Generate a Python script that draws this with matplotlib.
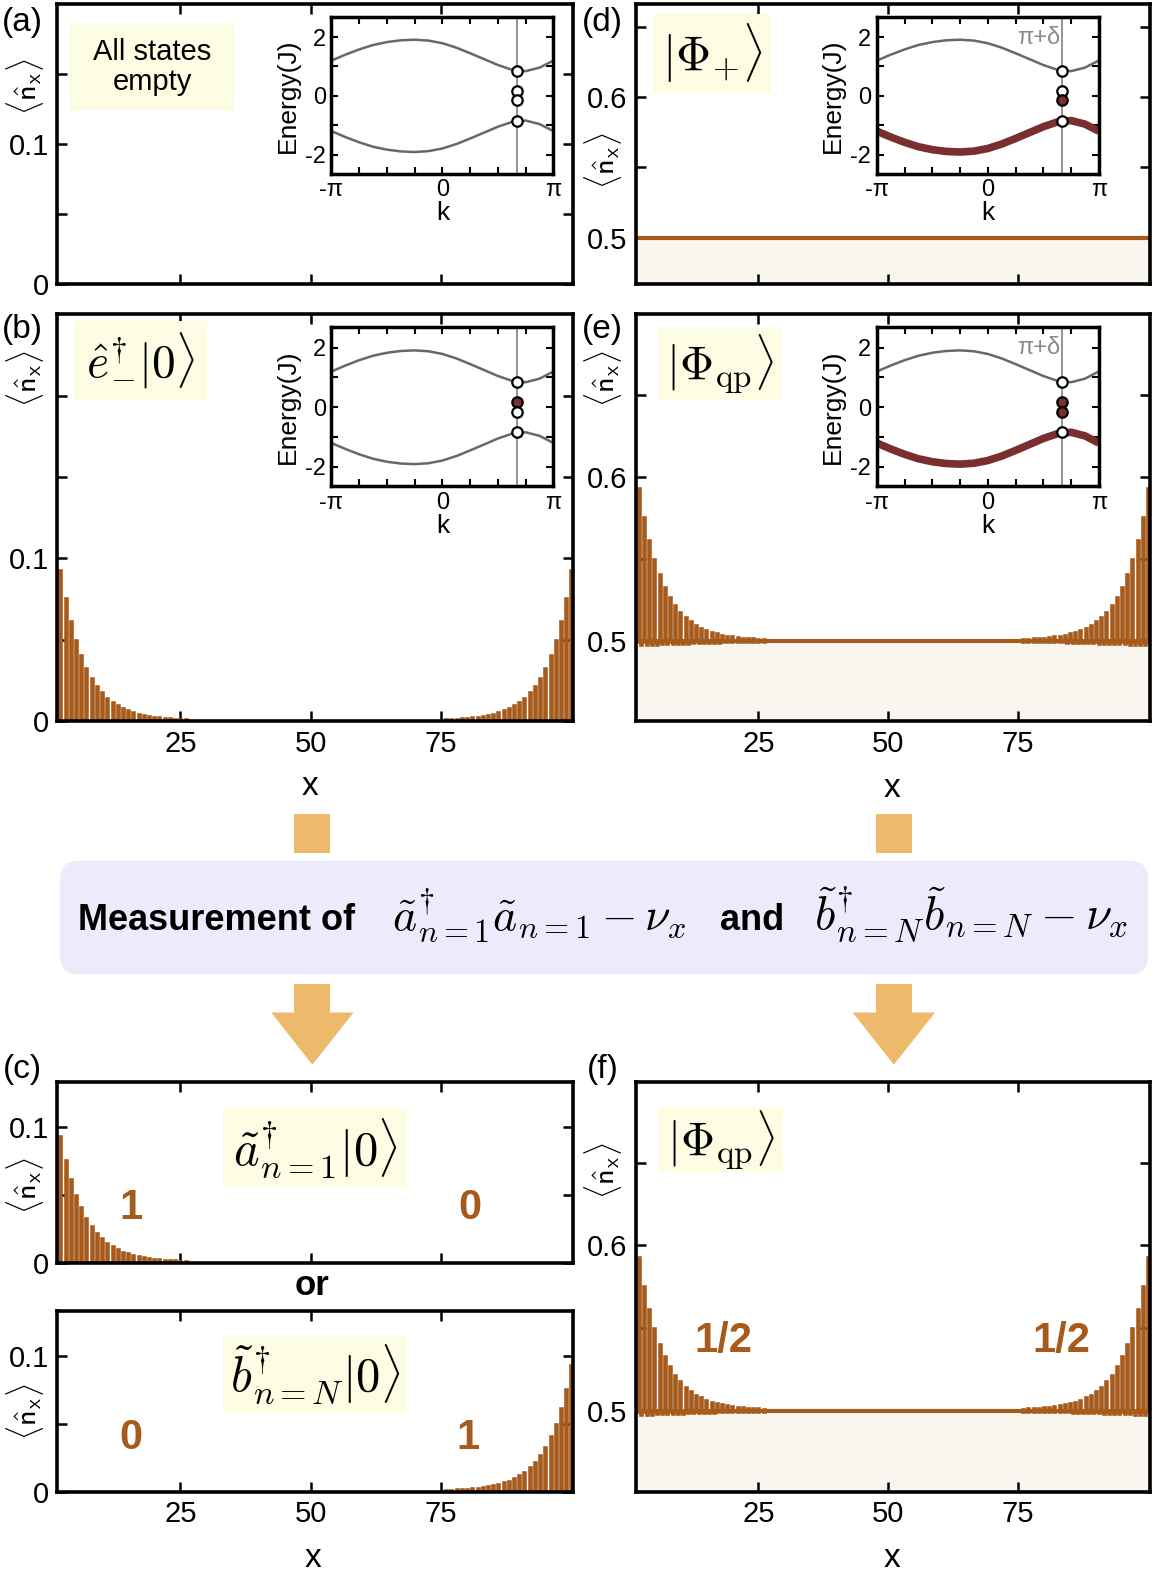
import matplotlib
matplotlib.use("Agg")
import matplotlib.pyplot as plt
import numpy as np
from matplotlib.patches import FancyBboxPatch, Rectangle, Polygon

plt.rcParams["font.family"] = ["Liberation Sans", "DejaVu Sans"]
plt.rcParams["mathtext.fontset"] = "cm"
plt.rcParams["axes.unicode_minus"] = False

# ---------------------------------------------------------------- data
# inset band structure, k in units of pi
band_k = [-1.0, -0.875, -0.75, -0.625, -0.5, -0.375, -0.25, -0.125, 0.0,
          0.125, 0.25, 0.375, 0.5, 0.625, 0.75, 0.875, 1.0]
upper_band = [1.20, 1.40, 1.58, 1.73, 1.83, 1.89, 1.91, 1.88, 1.79,
              1.64, 1.45, 1.25, 1.05, 0.89, 0.84, 0.96, 1.20]
lower_band = [-1.20, -1.40, -1.58, -1.73, -1.83, -1.89, -1.91, -1.88, -1.79,
              -1.64, -1.45, -1.25, -1.05, -0.89, -0.84, -0.96, -1.20]
k_cut = 0.67                      # pi + delta, units of pi
cut_levels = [0.84, 0.16, -0.15, -0.84]

# edge occupation, peak excess at sites 2, 3, 4, ... (mirrored at right edge)
edge_peaks = [0.0925, 0.0750, 0.0608, 0.0492, 0.0399, 0.0323, 0.0262, 0.0212,
              0.0172, 0.0139, 0.0113, 0.0091, 0.0074, 0.0060, 0.0049, 0.0039,
              0.0032, 0.0026, 0.0021, 0.0017, 0.0014, 0.0011, 0.0009, 0.0007,
              0.0006]
# dips below 1/2 between the peaks for the half filled states
edge_dips = [0.0020, 0.0019, 0.0018, 0.0017, 0.0016, 0.0015, 0.0014, 0.0013,
             0.0012, 0.0011, 0.0010, 0.0009, 0.0008, 0.0007, 0.0006, 0.0005,
             0.0004, 0.0003, 0.0003, 0.0002]

x_ticks = [25, 50, 75]

BROWN = "#a65a1b"
BEIGE = "#f8f6ee"
YELLOW = "#fdfde4"
ORANGE = "#edba6b"
LAVENDER = "#edeafb"
GRAY = "#686868"
DARKRED = "#7b2e2e"

RW, RH = 1148, 1568   # grid the layout was measured on

fig = plt.figure(figsize=(11.53, 15.75), dpi=100)


def rect(x0, y0, x1, y1):
    return [x0 / RW, 1 - y1 / RH, (x1 - x0) / RW, (y1 - y0) / RH]


def panel(r, ylim, yticks, ylabels, xlabels=False):
    ax = fig.add_axes(rect(*r))
    ax.set_xlim(1.4, 100.4)
    ax.set_ylim(*ylim)
    ax.set_xticks(x_ticks)
    ax.set_xticklabels([str(t) for t in x_ticks] if xlabels else [])
    ax.set_yticks(yticks)
    ax.set_yticklabels(ylabels)
    ax.tick_params(direction="in", length=7, width=1.8, top=True, right=True,
                   labelsize=21, pad=6)
    for s in ax.spines.values():
        s.set_linewidth(2.6)
        s.set_zorder(5)
    return ax


def stems(ax, base, left=True, right=True, dips=False):
    n = len(edge_peaks)
    xs, ys = [], []
    if left:
        xs += list(np.arange(2, 2 + n))
        ys += [base + v for v in edge_peaks]
    if right:
        xs += list(np.arange(100, 100 - n, -1))
        ys += [base + v for v in edge_peaks]
    if dips:
        m = len(edge_dips)
        if left:
            xs += list(np.arange(2.5, 2.5 + m))
            ys += [base - v for v in edge_dips]
        if right:
            xs += list(np.arange(99.5, 99.5 - m, -1))
            ys += [base - v for v in edge_dips]
    ax.vlines(xs, base, ys, colors=BROWN, lw=3.3, capstyle="projecting")


def inset(r, occupied, filled, delta):
    ax = fig.add_axes(rect(*r))
    ax.set_xlim(-1, 1)
    ax.set_ylim(-2.65, 2.68)
    ax.plot(band_k, upper_band, color=GRAY, lw=1.8)
    if occupied:
        ax.plot(band_k, lower_band, color=DARKRED, lw=5.5, solid_capstyle="butt")
    else:
        ax.plot(band_k, lower_band, color=GRAY, lw=1.8)
    ax.axvline(k_cut, color="#8c8c8c", lw=1.3, zorder=1)
    for e, f in zip(cut_levels, filled):
        ax.plot(k_cut, e, "o", ms=7.5, mfc=DARKRED if f else "white",
                mec="black", mew=1.6, zorder=6)
    if delta:
        ax.text(k_cut - 0.02, 1.98, "π+δ", color="#8a8a8a", fontsize=17,
                ha="right", va="center")
    kt = np.arange(-1, 1.01, 0.25)
    ax.set_xticks(kt)
    ax.set_xticklabels(["-π", "", "", "", "0", "", "", "", "π"])
    ax.set_yticks([-2, -1, 0, 1, 2])
    ax.set_yticklabels(["-2", "", "0", "", "2"])
    ax.tick_params(direction="in", length=5, width=1.5, top=True, right=True,
                   labelsize=17, pad=4)
    ax.set_xlabel("k", fontsize=19, labelpad=0)
    ax.set_ylabel("Energy(J)", fontsize=19, labelpad=4)
    for s in ax.spines.values():
        s.set_linewidth(2.5)
    return ax


# ---------------------------------------------------------------- panels
ax_a = panel((57, 4, 571, 283), (0, 0.2), [0, 0.05, 0.1, 0.15], ["0", "", "0.1", ""])

ax_b = panel((57, 313, 571, 718), (0, 0.25), [0, 0.05, 0.1, 0.15, 0.2],
             ["0", "", "0.1", "", ""], xlabels=True)
stems(ax_b, 0)

ax_c1 = panel((57, 1077, 571, 1257), (0, 0.133), [0, 0.05, 0.1], ["0", "", "0.1"])
stems(ax_c1, 0, right=False)

ax_c2 = panel((57, 1305, 571, 1485), (0, 0.133), [0, 0.05, 0.1], ["0", "", "0.1"],
              xlabels=True)
stems(ax_c2, 0, left=False)

ax_d = panel((633, 4, 1145, 283), (0.467, 0.666), [0.5, 0.55, 0.6, 0.65],
             ["0.5", "", "0.6", ""])
ax_d.axhspan(0.4, 0.5, color=BEIGE, lw=0)
ax_d.axhline(0.5, color=BROWN, lw=3.0)

for r in [(633, 313, 1145, 718), (633, 1077, 1145, 1485)]:
    ax = panel(r, (0.451, 0.699), [0.5, 0.55, 0.6, 0.65], ["0.5", "", "0.6", ""],
               xlabels=True)
    ax.axhspan(0.4, 0.5, color=BEIGE, lw=0)
    ax.axhline(0.5, color=BROWN, lw=2.9)
    stems(ax, 0.5, dips=True)

inset((330, 17, 551, 173), False, [0, 0, 0, 0], False)
inset((330, 326, 551, 484), False, [0, 1, 0, 0], False)
inset((873, 17, 1094, 173), True, [0, 0, 1, 0], True)
inset((873, 326, 1094, 484), True, [0, 1, 1, 0], True)

# ---------------------------------------------------------------- overlay
ov = fig.add_axes([0, 0, 1, 1])
ov.set_xlim(0, RW)
ov.set_ylim(RH, 0)
ov.axis("off")
ov.patch.set_alpha(0)

# labels
for s, x, y in [("(a)", 22, 22), ("(b)", 22, 328), ("(c)", 22, 1065),
                ("(d)", 600, 22), ("(e)", 600, 328), ("(f)", 600, 1065)]:
    ov.text(x, y, s, fontsize=24, ha="center", va="center")

nx = r"$\langle\hat{\mathsf{n}}_{\mathsf{x}}\rangle$"
for x, y in [(25, 86), (25, 377), (25, 1180), (25, 1405),
             (600, 160), (600, 377), (600, 1165)]:
    ov.text(x, y, nx, fontsize=22, rotation=90, ha="center", va="center")

for x, y in [(309, 783), (312, 1552), (888, 785), (888, 1552)]:
    ov.text(x, y, "x", fontsize=24, ha="center", va="center")

# state boxes
eq = r"{=}"
states = [
    ((70, 24, 233, 110), "All states\nempty", dict(fontsize=21, linespacing=1.1)),
    ((74, 320, 206, 398), r"$\hat{e}_{-}^{\dagger}|0\rangle$", dict(fontsize=34)),
    ((650, 14, 768, 92), r"$|\Phi_{+}\rangle$", dict(fontsize=35)),
    ((655, 327, 778, 398), r"$|\Phi_{\mathrm{qp}}\rangle$", dict(fontsize=34)),
    ((222, 1103, 405, 1183), r"$\tilde{a}_{n" + eq + r"1}^{\dagger}|0\rangle$",
     dict(fontsize=35)),
    ((222, 1330, 405, 1407), r"$\tilde{b}_{n" + eq + r"N}^{\dagger}|0\rangle$",
     dict(fontsize=35)),
    ((655, 1102, 780, 1168), r"$|\Phi_{\mathrm{qp}}\rangle$", dict(fontsize=34)),
]
for (x0, y0, x1, y1), s, kw in states:
    ov.add_patch(Rectangle((x0, y0), x1 - x0, y1 - y0, color=YELLOW, lw=0))
    ov.text((x0 + x1) / 2, (y0 + y1) / 2, s, ha="center", va="center", **kw)

# edge charges
for s, x, y in [("1", 130, 1203), ("0", 468, 1203), ("0", 130, 1432),
                ("1", 466, 1432), ("1/2", 720, 1335), ("1/2", 1057, 1335)]:
    ov.text(x, y, s, fontsize=30, fontweight="bold", color=BROWN,
            ha="center", va="center")

ov.text(311, 1280, "or", fontsize=25, fontweight="bold", ha="center", va="center")

# measurement arrows and box
for cx in (311, 890):
    ov.add_patch(Rectangle((cx - 18, 810), 36, 39, color=ORANGE, lw=0))
    ov.add_patch(Rectangle((cx - 18, 980), 36, 30, color=ORANGE, lw=0))
    ov.add_patch(Polygon([(cx - 41, 1008), (cx + 41, 1008), (cx, 1060)],
                         closed=True, color=ORANGE, lw=0))
ov.add_patch(FancyBboxPatch((60, 857), 1083, 113,
                            boxstyle="round,pad=0,rounding_size=18",
                            color=LAVENDER, lw=0))
ov.text(78, 926, "Measurement of", fontsize=26, fontweight="bold",
        ha="left", va="baseline")
ov.text(390, 926, r"$\tilde{a}_{n" + eq + r"1}^{\dagger}\tilde{a}_{n" + eq
        + r"1}-\nu_x$", fontsize=33, ha="left", va="baseline")
ov.text(717, 926, "and", fontsize=26, fontweight="bold", ha="left", va="baseline")
ov.text(810, 926, r"$\tilde{b}_{n" + eq + r"N}^{\dagger}\tilde{b}_{n" + eq
        + r"N}-\nu_x$", fontsize=34, ha="left", va="baseline")

fig.savefig("out.png", dpi=100)
